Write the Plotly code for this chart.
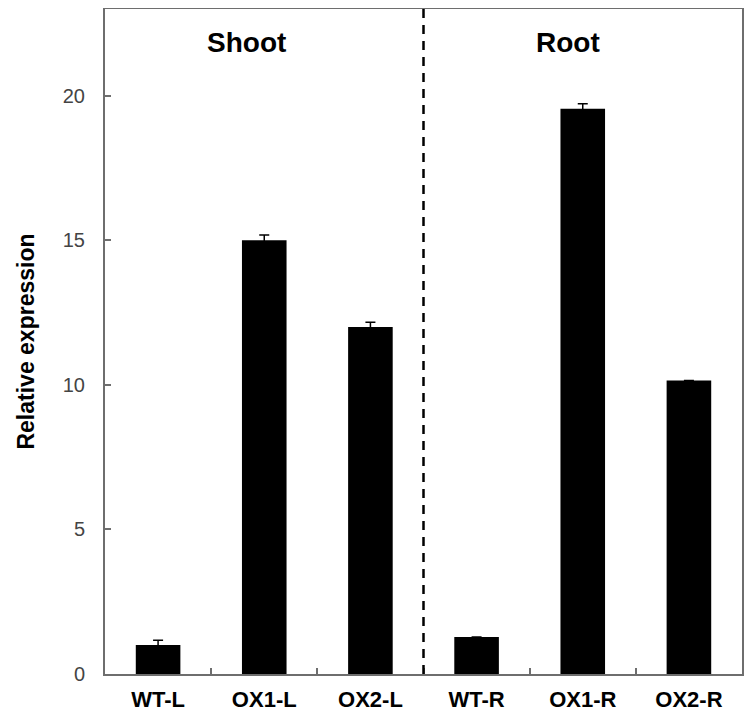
import plotly.graph_objects as go

categories = ["WT-L", "OX1-L", "OX2-L", "WT-R", "OX1-R", "OX2-R"]
values = [1.0, 15.0, 12.0, 1.28, 19.55, 10.15]
errors = [0.17, 0.18, 0.17, None, 0.17, None]
group_labels = ["Shoot", "Root"]
y_ticks = [0, 5, 10, 15, 20]

xpos = list(range(len(categories)))

fig = go.Figure()
fig.add_trace(go.Bar(
    x=xpos, y=values,
    marker=dict(color="black", line=dict(width=0)),
    width=0.42,
    error_y=dict(type="data", array=errors, visible=True, color="black", thickness=1.5, width=5),
    showlegend=False,
))

axis_col = "#6e6e6e"
fig.update_layout(
    width=747, height=704,
    margin=dict(l=97, r=13, t=1, b=38, autoexpand=False),
    plot_bgcolor="white", paper_bgcolor="white",
    font=dict(family="Liberation Sans, Arial, sans-serif", color="black"),
    xaxis=dict(
        range=[-0.5, 5.5], tickvals=xpos, ticktext=categories, ticks="",
        tickfont=dict(size=22, family="Liberation Sans, Arial", color="black", weight="bold"),
        showline=True, linecolor=axis_col, linewidth=2, mirror=True, showgrid=False, zeroline=False,
        minor=dict(tickvals=[0.5, 1.5, 2.5, 3.5, 4.5], ticks="inside", ticklen=6, tickcolor=axis_col, tickwidth=1.5, showgrid=False),
        ticklabelstandoff=5, automargin=False,
    ),
    yaxis=dict(
        range=[0, 23], tickvals=y_ticks, ticks="inside", ticklen=6, tickcolor=axis_col, tickwidth=1.5,
        tickfont=dict(size=20, color="#444444"),
        ticklabelstandoff=14, automargin=False,
        showline=True, linecolor=axis_col, linewidth=2, mirror=True, showgrid=False, zeroline=False,
        title=dict(text="<b>Relative expression</b>", font=dict(size=23, color="black"), standoff=22),
    ),
)

fig.add_shape(type="line", x0=2.5, x1=2.5, y0=0, y1=1, yref="paper", xref="x",
              line=dict(color="black", width=2.5, dash="9px,7px"))

fig.add_annotation(x=0.83, y=21.85, text="<b>" + group_labels[0] + "</b>", showarrow=False,
                   font=dict(size=28, color="black"), xref="x", yref="y")
fig.add_annotation(x=3.86, y=21.85, text="<b>" + group_labels[1] + "</b>", showarrow=False,
                   font=dict(size=28, color="black"), xref="x", yref="y")

fig.write_html("out.html")
